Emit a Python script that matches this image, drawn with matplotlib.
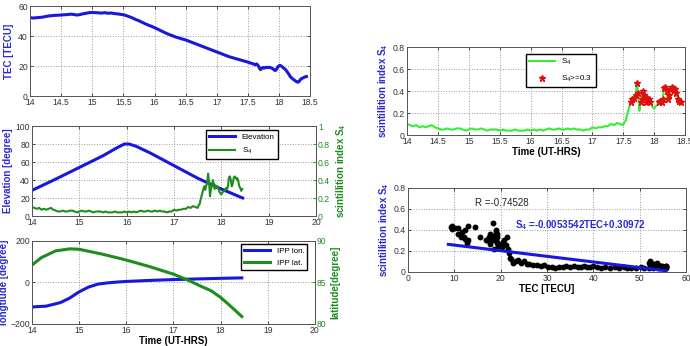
import numpy as np
import matplotlib
matplotlib.use('Agg')
import matplotlib.pyplot as plt

plt.rcParams['font.family'] = ['Liberation Sans', 'DejaVu Sans']
plt.rcParams['mathtext.fontset'] = 'custom'
plt.rcParams['mathtext.rm'] = 'Liberation Sans'
plt.rcParams['mathtext.bf'] = 'Liberation Sans:bold'
plt.rcParams['mathtext.default'] = 'regular'

# sampling times: 0.05 h until 17.45, then 0.02 h in the active part
time = np.round(np.concatenate([np.arange(14.0, 17.46, 0.05),
                                np.arange(17.5, 18.441, 0.02)]), 2)

tec = [52.3, 52.0, 52.2, 52.4, 52.6, 53.0, 53.4, 53.6, 53.8, 53.9,
       54.0, 54.2, 54.3, 54.6, 54.4, 54.0, 54.3, 54.8, 55.2, 55.6,
       55.7, 55.6, 55.5, 55.3, 55.6, 55.2, 55.4, 55.0, 54.8, 54.5,
       54.2, 53.6, 52.8, 52.0, 51.0, 50.2, 49.2, 48.2, 47.3, 46.5,
       45.6, 44.6, 43.6, 42.6, 41.6, 40.8, 40.0, 39.2, 38.6, 38.0,
       37.4, 36.6, 35.8, 35.0, 34.2, 33.4, 32.6, 31.8, 31.0, 30.2,
       29.4, 28.6, 27.8, 27.0, 26.2, 25.6, 25.0, 24.4, 23.8, 23.2,
       22.6, 22.3, 22.0, 21.8, 21.5, 21.2, 20.8, 21.4, 20.6, 19.0,
       17.6, 18.4, 19.0, 18.6, 19.0, 19.2, 18.9, 19.2, 19.0, 18.6,
       18.2, 17.4, 17.0, 17.8, 19.4, 20.2, 20.4, 19.8, 19.2, 18.4,
       17.8, 16.8, 15.6, 14.4, 13.0, 12.2, 11.4, 10.8, 10.2, 9.6,
       9.2, 9.6, 10.8, 11.6, 12.0, 12.4, 12.8, 13.0]

s4 = [0.10, 0.09, 0.08, 0.09, 0.07, 0.08, 0.07, 0.08, 0.09, 0.07,
      0.06, 0.05, 0.05, 0.06, 0.05, 0.05, 0.06, 0.06, 0.05, 0.04,
      0.05, 0.06, 0.05, 0.05, 0.06, 0.05, 0.04, 0.05, 0.05, 0.05,
      0.04, 0.05, 0.04, 0.04, 0.04, 0.05, 0.04, 0.04, 0.04, 0.05,
      0.04, 0.05, 0.04, 0.05, 0.04, 0.05, 0.06, 0.05, 0.05, 0.06,
      0.05, 0.05, 0.06, 0.05, 0.06, 0.05, 0.05, 0.04, 0.05, 0.05,
      0.07, 0.06, 0.07, 0.07, 0.08, 0.08, 0.10, 0.09, 0.11, 0.10,
      0.09, 0.12, 0.13, 0.18, 0.22, 0.26, 0.30, 0.33, 0.29, 0.34,
      0.36, 0.47, 0.38, 0.22, 0.30, 0.33, 0.40, 0.36, 0.30, 0.34,
      0.31, 0.33, 0.30, 0.27, 0.25, 0.24, 0.26, 0.27, 0.28, 0.30,
      0.31, 0.30, 0.33, 0.43, 0.44, 0.40, 0.33, 0.36, 0.42, 0.44,
      0.43, 0.41, 0.42, 0.38, 0.33, 0.31, 0.28, 0.30]

el_time = [14.0, 14.5, 15.0, 15.5, 15.8, 15.95, 16.05, 16.2, 16.5, 17.0, 17.5, 18.0, 18.45]
elevation = [28.5, 41, 54, 67, 76, 80, 80, 77.5, 70, 56, 42, 30, 20]

ipp_time = [14.0, 14.3, 14.6, 14.8, 15.0, 15.2, 15.4, 15.6, 15.8, 16.0, 16.5, 17.0, 17.5, 18.0, 18.45]
ipp_lon = [-118, -114, -97, -75, -45, -22, -8, -2, 2, 5, 10, 14, 17, 20, 22]
lat_time = [14.0, 14.2, 14.5, 14.8, 15.0, 15.5, 16.0, 16.5, 17.0, 17.3, 17.6, 17.8, 18.0, 18.2, 18.45]
ipp_lat = [87.1, 88.0, 88.8, 89.05, 89.0, 88.4, 87.7, 86.9, 86.0, 85.3, 84.5, 84.0, 83.2, 82.2, 80.9]

fit_slope = -0.0053542
fit_icpt = 0.30972
r_value = -0.74528

s4 = np.array(s4)
tec = np.array(tec)

BLUE = '#1818dc'
LBLUE = '#2a2ad0'
GREEN = '#1e8c1e'
LGREEN = '#33ee33'
FS_T = 6.2
FS_L = 7


def style(ax, right=True):
    ax.tick_params(direction='in', labelsize=FS_T, length=2.5, width=0.6,
                   top=True, right=right, colors='#333333', pad=1.5)
    ax.grid(True, linestyle=':', color='#9a9a9a', linewidth=0.7)
    for s in ax.spines.values():
        s.set_color('#555555')
        s.set_linewidth(0.7)


fig = plt.figure(figsize=(6.9, 3.46), dpi=100)

# TEC
ax1 = fig.add_axes([0.0435, 0.7225, 0.406, 0.26])
ax1.plot(time, tec, color=BLUE, lw=2.2)
ax1.set_xlim(14, 18.5)
ax1.set_ylim(0, 60)
ax1.set_xticks(np.arange(14, 18.51, 0.5))
ax1.set_xticklabels(['14', '14.5', '15', '15.5', '16', '16.5', '17', '17.5', '18', '18.5'])
ax1.set_yticks([0, 20, 40, 60])
ax1.set_ylabel('TEC [TECU]', color=LBLUE, fontsize=FS_L, fontweight='bold', labelpad=3)
style(ax1)

# Elevation and S4
ax2 = fig.add_axes([0.0464, 0.3757, 0.4116, 0.26])
l1, = ax2.plot(el_time, elevation, color=BLUE, lw=2.2, label='Elevation')
ax2.set_xlim(14, 20)
ax2.set_ylim(0, 100)
ax2.set_yticks(np.arange(0, 101, 20))
ax2.set_ylabel('Elevation [degree]', color=LBLUE, fontsize=FS_L, fontweight='bold', labelpad=2)
style(ax2, right=False)
ax2r = ax2.twinx()
l2, = ax2r.plot(time, s4, color=GREEN, lw=1.5, label='S$_4$')
ax2r.set_ylim(0, 1)
ax2r.set_yticks(np.arange(0, 1.01, 0.2))
ax2r.set_yticklabels(['0', '0.2', '0.4', '0.6', '0.8', '1'])
ax2r.tick_params(direction='in', labelsize=FS_T, length=2.5, width=0.6,
                 colors=GREEN, pad=1.5)
ax2r.set_ylabel('scintillition index S$_4$', color=GREEN, fontsize=FS_L,
                fontweight='bold', labelpad=3)
for s in ax2r.spines.values():
    s.set_color('#555555')
    s.set_linewidth(0.7)
ax2r.legend([l1, l2], ['Elevation', 'S$_4$'], loc='upper left',
            bbox_to_anchor=(0.613, 0.96), fontsize=5.8, fancybox=False,
            edgecolor='black', framealpha=1, handlelength=3.2,
            borderaxespad=0, labelspacing=0.6)

# IPP lon / lat
ax3 = fig.add_axes([0.0464, 0.0636, 0.410, 0.24])
l3, = ax3.plot(ipp_time, ipp_lon, color=BLUE, lw=2.2)
ax3.set_xlim(14, 20)
ax3.set_ylim(-200, 200)
ax3.set_yticks([-200, 0, 200])
ax3.set_ylabel('longtiude [degree]', color=LBLUE, fontsize=FS_L, fontweight='bold', labelpad=1)
ax3.set_xlabel('Time (UT-HRS)', fontsize=FS_L, fontweight='bold', labelpad=1)
style(ax3, right=False)
ax3r = ax3.twinx()
l4, = ax3r.plot(lat_time, ipp_lat, color=GREEN, lw=2.2)
ax3r.set_ylim(80, 90)
ax3r.set_yticks([80, 85, 90])
ax3r.tick_params(direction='in', labelsize=FS_T, length=2.5, width=0.6,
                 colors=GREEN, pad=1.5)
ax3r.set_ylabel('latitude[degree]', color=GREEN, fontsize=FS_L, fontweight='bold', labelpad=3)
for s in ax3r.spines.values():
    s.set_color('#555555')
    s.set_linewidth(0.7)
ax3r.legend([l3, l4], ['IPP lon.', 'IPP lat.'], loc='upper left',
            bbox_to_anchor=(0.739, 0.964), fontsize=5.8, fancybox=False,
            edgecolor='black', framealpha=1, handlelength=3.2,
            borderaxespad=0, labelspacing=0.6)

# S4 time series
ax4 = fig.add_axes([0.5899, 0.6098, 0.403, 0.2543])
hi = s4 >= 0.3
ax4.plot(time, s4, color=LGREEN, lw=1.5, label='S$_4$')
ax4.plot(time[hi], s4[hi], '*', color='#e01010', ms=5, ls='none', label='S$_4$>=0.3')
ax4.set_xlim(14, 18.5)
ax4.set_ylim(0, 0.8)
ax4.set_xticks(np.arange(14, 18.51, 0.5))
ax4.set_xticklabels(['14', '14.5', '15', '15.5', '16', '16.5', '17', '17.5', '18', '18.5'])
ax4.set_yticks(np.arange(0, 0.81, 0.2))
ax4.set_yticklabels(['0', '0.2', '0.4', '0.6', '0.8'])
ax4.set_ylabel('scintillition index S$_4$', color=LBLUE, fontsize=FS_L, fontweight='bold', labelpad=2)
ax4.set_xlabel('Time (UT-HRS)', fontsize=FS_L, fontweight='bold', labelpad=1)
style(ax4)
ax4.legend(loc='upper left', bbox_to_anchor=(0.428, 0.92), fontsize=5.8,
           fancybox=False, edgecolor='black', framealpha=1, handlelength=3.2,
           borderaxespad=0, labelspacing=0.8)

# S4 vs TEC
ax5 = fig.add_axes([0.5913, 0.2139, 0.403, 0.2428])
ax5.plot(tec, s4, 'o', color='black', ms=3.2, ls='none')
xf = np.array([tec.min() - 0.5, tec.max()])
ax5.plot(xf, fit_slope * xf + fit_icpt, color=BLUE, lw=2.2)
ax5.set_xlim(0, 60)
ax5.set_ylim(0, 0.8)
ax5.set_xticks(np.arange(0, 61, 10))
ax5.set_yticks(np.arange(0, 0.81, 0.2))
ax5.set_yticklabels(['0', '0.2', '0.4', '0.6', '0.8'])
ax5.set_ylabel('scintillition index S$_4$', color=LBLUE, fontsize=FS_L, fontweight='bold', labelpad=2)
ax5.set_xlabel('TEC [TECU]', fontsize=FS_L, fontweight='bold', labelpad=1)
style(ax5)
ax5.text(14.5, 0.63, 'R =%.5f' % r_value, fontsize=FS_L, color='#222222')
ax5.text(23, 0.42, 'S$_4$ =%.7fTEC+%.5f' % (fit_slope, fit_icpt), fontsize=FS_L,
         color=LBLUE, fontweight='bold')

fig.savefig('out.png', dpi=100)
